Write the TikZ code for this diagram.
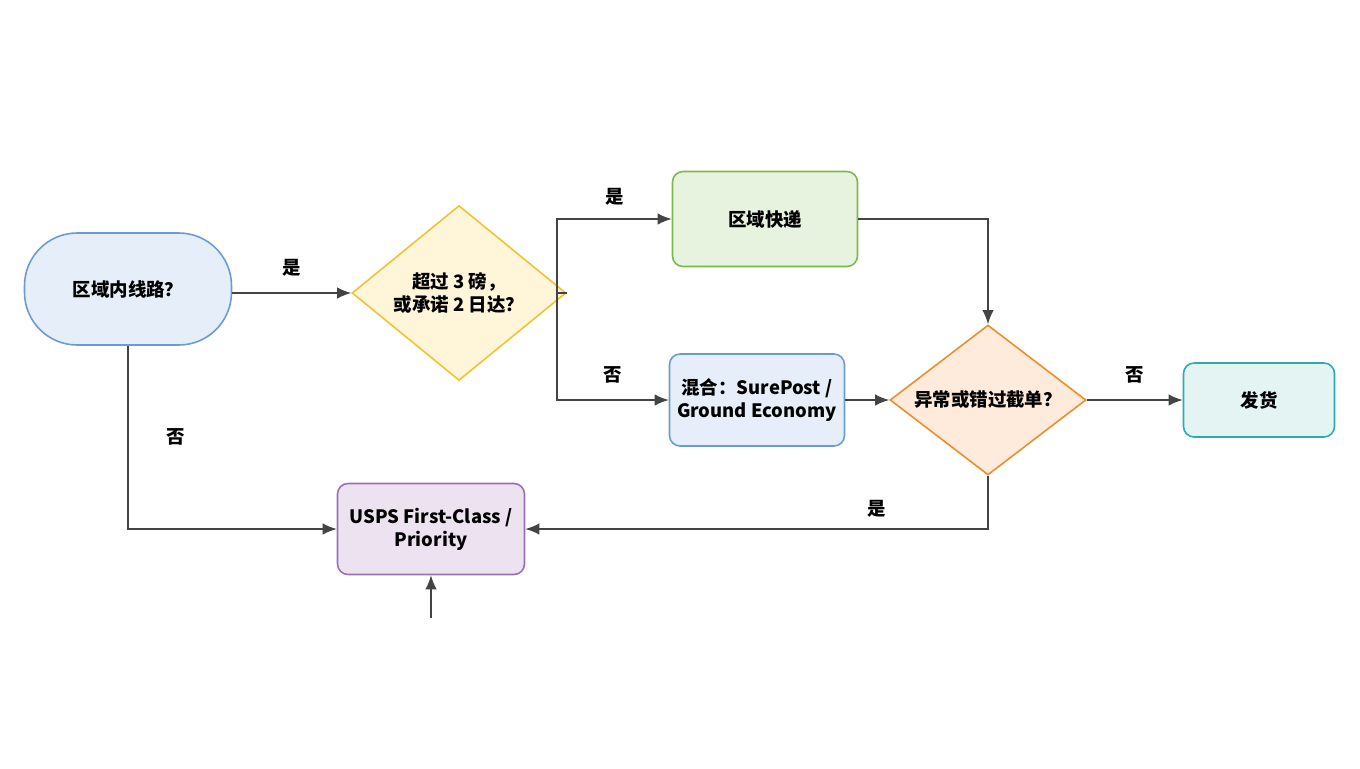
\documentclass[tikz,border=0pt]{standalone}
\usepackage{fontspec}
\setmainfont{Noto Sans CJK SC}
\usetikzlibrary{shapes.geometric,arrows.meta}
\definecolor{BlueFill}{HTML}{E6EEF9}\definecolor{BlueLine}{HTML}{6A9BD8}
\definecolor{GoldFill}{HTML}{FFF5D8}\definecolor{GoldLine}{HTML}{F2C230}
\definecolor{GreenFill}{HTML}{E8F3DF}\definecolor{GreenLine}{HTML}{7CB94B}
\definecolor{OrangeFill}{HTML}{FFEBDC}\definecolor{OrangeLine}{HTML}{F08C2A}
\definecolor{TealFill}{HTML}{E3F4F3}\definecolor{TealLine}{HTML}{2AADB1}
\definecolor{PurpleFill}{HTML}{EDE3F0}\definecolor{PurpleLine}{HTML}{9A70B0}
\definecolor{ArrowGray}{HTML}{444444}
\tikzstyle{base}=[rectangle, rounded corners=6pt, line width=0.9pt,
                  font=\fontsize{10.5}{13}\selectfont\bfseries, align=center, inner sep=1pt]
\tikzstyle{decision}=[base, diamond, rounded corners=0pt, aspect=1.22]
\tikzstyle{flow}=[-{Latex[length=8pt,width=6.5pt]}, line width=0.8pt, draw=ArrowGray]
\tikzstyle{lbl}=[font=\fontsize{10.5}{13}\selectfont\bfseries]

\begin{document}
\begin{tikzpicture}[x=0.02cm, y=-0.02cm]
  \useasboundingbox (0,0) rectangle (1360,768);

  \node at (128, 289) (start)   [base, rounded corners=30pt, draw=BlueLine, fill=BlueFill, minimum width=207*0.02cm, minimum height=112*0.02cm] {区域内线路？};
  \node at (459, 293) (heavy)   [decision, draw=GoldLine, fill=GoldFill, minimum width=214*0.02cm, minimum height=175*0.02cm] {超过 3 磅，\\或承诺 2 日达？};
  \node at (765, 219) (express) [base, draw=GreenLine, fill=GreenFill, minimum width=185*0.02cm, minimum height=95*0.02cm] {区域快递};
  \node at (757, 400) (mixed)   [base, draw=BlueLine, fill=BlueFill, minimum width=175*0.02cm, minimum height=92*0.02cm] {混合：SurePost /\\Ground Economy};
  \node at (988, 400) (late)    [decision, draw=OrangeLine, fill=OrangeFill, minimum width=196*0.02cm, minimum height=150*0.02cm] {异常或错过截单？};
  \node at (1259, 400) (ship)   [base, draw=TealLine, fill=TealFill, minimum width=151*0.02cm, minimum height=74*0.02cm] {发货};
  \node at (431, 529) (usps)    [base, draw=PurpleLine, fill=PurpleFill, minimum width=187*0.02cm, minimum height=91*0.02cm] {USPS First-Class /\\Priority};
  \coordinate (extra) at (431, 618);
  \coordinate (split) at (557, 293);

  \draw[flow] (start.east |- heavy) -- node[lbl, above=6pt] {是} (heavy);
  \draw[line width=0.8pt, draw=ArrowGray] (heavy.east) -- (split);
  \draw[flow] (split) |- node[lbl, pos=0.75, above=4pt] {是} (express);
  \draw[flow] (split) |- node[lbl, pos=0.75, above=6pt] {否} (mixed);
  \draw[flow] (express) -| (late);
  \draw[flow] (mixed) -- (late);
  \draw[flow] (late) -- node[lbl, above=6pt] {否} (ship);
  \draw[flow] (late) |- node[lbl, pos=0.62, above=3pt] {是} (usps);
  \draw[flow] (start) |- node[lbl, pos=0.25, right=18pt] {否} (usps);
  \draw[flow] (extra) -- (usps);
\end{tikzpicture}
\end{document}
